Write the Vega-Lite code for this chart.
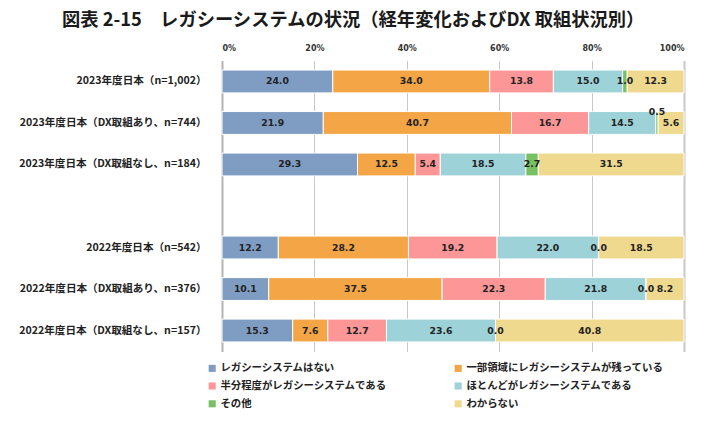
{
  "$schema": "https://vega.github.io/schema/vega-lite/v6.json",
  "width": 462,
  "height": 291,
  "autosize": "none",
  "padding": {"left": 222, "top": 60.5, "right": 35, "bottom": 76.5},
  "background": "white",
  "config": {"view": {"stroke": null}, "font": "Noto Sans CJK JP"},
  "title": {
    "text": "図表 2-15　レガシーシステムの状況（経年変化およびDX 取組状況別）",
    "anchor": "start",
    "frame": "group",
    "dx": -160,
    "offset": 14,
    "fontSize": 18.3,
    "fontWeight": "bold",
    "color": "#1a1a1a",
    "font": "Noto Sans CJK JP"
  },
  "data": {
    "values": [
      {"group": "2023年度日本（n=1,002）", "cat": "レガシーシステムはない", "o": 1, "value": 24.0},
      {"group": "2023年度日本（n=1,002）", "cat": "一部領域にレガシーシステムが残っている", "o": 2, "value": 34.0},
      {"group": "2023年度日本（n=1,002）", "cat": "半分程度がレガシーシステムである", "o": 3, "value": 13.8},
      {"group": "2023年度日本（n=1,002）", "cat": "ほとんどがレガシーシステムである", "o": 4, "value": 15.0},
      {"group": "2023年度日本（n=1,002）", "cat": "その他", "o": 5, "value": 1.0},
      {"group": "2023年度日本（n=1,002）", "cat": "わからない", "o": 6, "value": 12.3},
      {"group": "2023年度日本（DX取組あり、n=744）", "cat": "レガシーシステムはない", "o": 1, "value": 21.9},
      {"group": "2023年度日本（DX取組あり、n=744）", "cat": "一部領域にレガシーシステムが残っている", "o": 2, "value": 40.7},
      {"group": "2023年度日本（DX取組あり、n=744）", "cat": "半分程度がレガシーシステムである", "o": 3, "value": 16.7},
      {"group": "2023年度日本（DX取組あり、n=744）", "cat": "ほとんどがレガシーシステムである", "o": 4, "value": 14.5},
      {"group": "2023年度日本（DX取組あり、n=744）", "cat": "その他", "o": 5, "value": 0.5},
      {"group": "2023年度日本（DX取組あり、n=744）", "cat": "わからない", "o": 6, "value": 5.6},
      {"group": "2023年度日本（DX取組なし、n=184）", "cat": "レガシーシステムはない", "o": 1, "value": 29.3},
      {"group": "2023年度日本（DX取組なし、n=184）", "cat": "一部領域にレガシーシステムが残っている", "o": 2, "value": 12.5},
      {"group": "2023年度日本（DX取組なし、n=184）", "cat": "半分程度がレガシーシステムである", "o": 3, "value": 5.4},
      {"group": "2023年度日本（DX取組なし、n=184）", "cat": "ほとんどがレガシーシステムである", "o": 4, "value": 18.5},
      {"group": "2023年度日本（DX取組なし、n=184）", "cat": "その他", "o": 5, "value": 2.7},
      {"group": "2023年度日本（DX取組なし、n=184）", "cat": "わからない", "o": 6, "value": 31.5},
      {"group": "2022年度日本（n=542）", "cat": "レガシーシステムはない", "o": 1, "value": 12.2},
      {"group": "2022年度日本（n=542）", "cat": "一部領域にレガシーシステムが残っている", "o": 2, "value": 28.2},
      {"group": "2022年度日本（n=542）", "cat": "半分程度がレガシーシステムである", "o": 3, "value": 19.2},
      {"group": "2022年度日本（n=542）", "cat": "ほとんどがレガシーシステムである", "o": 4, "value": 22.0},
      {"group": "2022年度日本（n=542）", "cat": "その他", "o": 5, "value": 0.0},
      {"group": "2022年度日本（n=542）", "cat": "わからない", "o": 6, "value": 18.5},
      {"group": "2022年度日本（DX取組あり、n=376）", "cat": "レガシーシステムはない", "o": 1, "value": 10.1},
      {"group": "2022年度日本（DX取組あり、n=376）", "cat": "一部領域にレガシーシステムが残っている", "o": 2, "value": 37.5},
      {"group": "2022年度日本（DX取組あり、n=376）", "cat": "半分程度がレガシーシステムである", "o": 3, "value": 22.3},
      {"group": "2022年度日本（DX取組あり、n=376）", "cat": "ほとんどがレガシーシステムである", "o": 4, "value": 21.8},
      {"group": "2022年度日本（DX取組あり、n=376）", "cat": "その他", "o": 5, "value": 0.0},
      {"group": "2022年度日本（DX取組あり、n=376）", "cat": "わからない", "o": 6, "value": 8.2},
      {"group": "2022年度日本（DX取組なし、n=157）", "cat": "レガシーシステムはない", "o": 1, "value": 15.3},
      {"group": "2022年度日本（DX取組なし、n=157）", "cat": "一部領域にレガシーシステムが残っている", "o": 2, "value": 7.6},
      {"group": "2022年度日本（DX取組なし、n=157）", "cat": "半分程度がレガシーシステムである", "o": 3, "value": 12.7},
      {"group": "2022年度日本（DX取組なし、n=157）", "cat": "ほとんどがレガシーシステムである", "o": 4, "value": 23.6},
      {"group": "2022年度日本（DX取組なし、n=157）", "cat": "その他", "o": 5, "value": 0.0},
      {"group": "2022年度日本（DX取組なし、n=157）", "cat": "わからない", "o": 6, "value": 40.8}
    ]
  },
  "transform": [
    {"stack": "value", "groupby": ["group"], "sort": [{"field": "o"}], "offset": "normalize", "as": ["v0", "v1"]},
    {"calculate": "(datum.v0 + datum.v1) / 2", "as": "mid"}
  ],
  "encoding": {
    "y": {
      "field": "group",
      "type": "nominal",
      "title": null,
      "scale": {
        "domain": ["2023年度日本（n=1,002）", "2023年度日本（DX取組あり、n=744）", "2023年度日本（DX取組なし、n=184）", " ", "2022年度日本（n=542）", "2022年度日本（DX取組あり、n=376）", "2022年度日本（DX取組なし、n=157）"],
        "paddingInner": 0.45,
        "paddingOuter": 0.23
      },
      "axis": {
        "ticks": false,
        "labelPadding": 16,
        "labelFontSize": 10.6,
        "labelFontWeight": "bold",
        "labelColor": "#222222",
        "labelFont": "Noto Sans CJK JP",
        "labelLimit": 300,
        "domainColor": "#b4b4b4",
        "domainWidth": 2,
        "grid": false
      }
    }
  },
  "layer": [
    {
      "mark": {"type": "bar", "stroke": "white", "strokeWidth": 1},
      "encoding": {
        "x": {
          "field": "v0",
          "type": "quantitative",
          "scale": {"domain": [0, 1], "nice": false},
          "axis": {
            "orient": "top",
            "title": null,
            "values": [0, 0.2, 0.4, 0.6, 0.8, 1],
            "format": ".0%",
            "ticks": false,
            "domain": false,
            "labelFontSize": 8,
            "labelFontWeight": "bold",
            "labelColor": "#333333",
            "labelFont": "DejaVu Sans",
            "labelPadding": 8,
            "grid": true,
            "gridColor": "#c8c8c8",
            "gridWidth": {"condition": {"test": "datum.value === 1", "value": 2}, "value": 1}
          }
        },
        "x2": {"field": "v1"},
        "color": {
          "field": "cat",
          "type": "nominal",
          "scale": {
            "domain": ["レガシーシステムはない", "半分程度がレガシーシステムである", "その他", "一部領域にレガシーシステムが残っている", "ほとんどがレガシーシステムである", "わからない"],
            "range": ["#7f9dc3", "#fd9797", "#77c063", "#f4a646", "#9dd2d8", "#efd98e"]
          },
          "legend": {
            "title": null,
            "orient": "none",
            "legendX": -15,
            "legendY": 302.5,
            "columns": 2,
            "columnPadding": 66,
            "rowPadding": 6.8,
            "padding": 0,
            "symbolType": "square",
            "symbolSize": 50,
            "symbolStrokeWidth": 0,
            "labelFontSize": 10.4,
            "labelFontWeight": "bold",
            "labelColor": "#222222",
            "labelFont": "Noto Sans CJK JP",
            "labelOffset": 3,
            "labelLimit": 300
          }
        }
      }
    },
    {
      "transform": [{"filter": "datum.value !== 0.5"}],
      "mark": {"type": "text", "font": "DejaVu Sans", "fontWeight": "bold", "fontSize": 9.3, "color": "#222222"},
      "encoding": {
        "x": {"field": "mid", "type": "quantitative"},
        "text": {"field": "value", "type": "quantitative", "format": ".1f"}
      }
    },
    {
      "transform": [{"filter": "datum.value === 0.5"}],
      "mark": {"type": "text", "font": "DejaVu Sans", "fontWeight": "bold", "fontSize": 9.3, "color": "#222222", "dy": -11},
      "encoding": {
        "x": {"field": "mid", "type": "quantitative"},
        "text": {"field": "value", "type": "quantitative", "format": ".1f"}
      }
    }
  ]
}
